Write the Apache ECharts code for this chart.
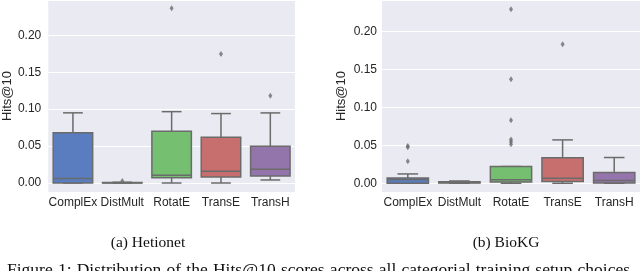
<!DOCTYPE html>
<html>
<head>
<meta charset="utf-8">
<script src="https://cdn.jsdelivr.net/npm/echarts@6/dist/echarts.min.js"></script>
<style>
html,body{margin:0;padding:0;background:#fff;}
#chart{width:640px;height:271px;}
</style>
</head>
<body>
<div id="chart"></div>
<script>
// ---- data ----
const categories = ['ComplEx', 'DistMult', 'RotatE', 'TransE', 'TransH'];
// box stats per category: [min, q1, median, q3, max]
const hetionetStats = [
  [0, 0, 0.006, 0.068, 0.095],
  [0, 0, 0.0003, 0.0008, 0.001],
  [0, 0.0072, 0.0104, 0.070, 0.0966],
  [0, 0.0081, 0.0158, 0.0619, 0.094],
  [0.0041, 0.0095, 0.0186, 0.0497, 0.0949]
];
// outliers: [categoryIndex, value]
const hetionetOutliers = [
  [1, 0.0027], [2, 0.2367], [3, 0.1748], [4, 0.1183]
];
const biokgStats = [
  [0, 0, 0.0048, 0.0070, 0.0123],
  [0, 0.0003, 0.001, 0.002, 0.003],
  [0, 0.0018, 0.0046, 0.022, 0.022],
  [0, 0.0022, 0.0066, 0.0337, 0.0571],
  [0, 0.0005, 0.0038, 0.0143, 0.0339]
];
const biokgOutliers = [
  [0, 0.0492], [0, 0.0475], [0, 0.029],
  [2, 0.229], [2, 0.1368], [2, 0.0831], [2, 0.0576], [2, 0.0545], [2, 0.0514],
  [3, 0.183]
];
const yAxisTitle = 'Hits@10';
const captions = ['(a) Hetionet', '(b) BioKG'];
const figureCaption = 'Figure 1: Distribution of the Hits@10 scores across all categorial training setup choices';

// ---- styles ----
const palette = ['#597dbf', '#d98b5f', '#75bf71', '#c76e6e', '#9475ab'];
const EDGE = '#6b6b6b';
const SANS = "'Liberation Sans', Arial, sans-serif";
const SERIF = "'Liberation Serif', 'Times New Roman', serif";
const TEXT = '#262626';

function renderBox(params, api) {
  const i = api.value(0);
  const cx = api.coord([i, 0])[0];
  const yMin = api.coord([i, api.value(1)])[1];
  const yQ1 = api.coord([i, api.value(2)])[1];
  const yMed = api.coord([i, api.value(3)])[1];
  const yQ3 = api.coord([i, api.value(4)])[1];
  const yMax = api.coord([i, api.value(5)])[1];
  const w = api.size([1, 0])[0] * 0.8;
  const cap = w / 2;
  const ls = { stroke: EDGE, lineWidth: 1.5, fill: null };
  return {
    type: 'group',
    children: [
      { type: 'line', shape: { x1: cx, y1: yQ3, x2: cx, y2: yMax }, style: ls },
      { type: 'line', shape: { x1: cx, y1: yQ1, x2: cx, y2: yMin }, style: ls },
      { type: 'line', shape: { x1: cx - cap / 2, y1: yMax, x2: cx + cap / 2, y2: yMax }, style: ls },
      { type: 'line', shape: { x1: cx - cap / 2, y1: yMin, x2: cx + cap / 2, y2: yMin }, style: ls },
      { type: 'rect', shape: { x: cx - w / 2, y: yQ3, width: w, height: Math.max(yQ1 - yQ3, 0.5) },
        style: { fill: palette[i], stroke: EDGE, lineWidth: 1.5 } },
      { type: 'line', shape: { x1: cx - w / 2, y1: yMed, x2: cx + w / 2, y2: yMed }, style: ls }
    ]
  };
}

function boxData(stats) {
  return stats.map((s, i) => [i].concat(s));
}

// justified caption line (like LaTeX), words spread between two edges
function justifiedLine(text, font, x0, x1, y) {
  const ctx = document.createElement('canvas').getContext('2d');
  ctx.font = font;
  const words = text.split(' ');
  const widths = words.map(w => ctx.measureText(w).width);
  const total = widths.reduce((a, b) => a + b, 0);
  const gap = (x1 - x0 - total) / (words.length - 1);
  let x = x0;
  return words.map((w, k) => {
    const el = { type: 'text', x: x, y: y,
      style: { text: w, fill: '#111', font: font, textAlign: 'left', textVerticalAlign: 'middle' } };
    x += widths[k] + gap;
    return el;
  });
}

const grids = [
  { left: 48, top: 0, width: 247, height: 192, min: -0.0122, max: 0.2478, labelMargin: 7 },
  { left: 382, top: 0, width: 258, height: 192, min: -0.0115, max: 0.2413, labelMargin: 5 }
];

const CAP_FONT = '15.5px ' + SERIF;
const FIG_FONT = '17.5px ' + SERIF;

const option = {
  backgroundColor: '#ffffff',
  animation: false,
  grid: grids.map(g => ({
    left: g.left, top: g.top, width: g.width, height: g.height,
    show: true, backgroundColor: '#eaeaf2', borderWidth: 0
  })),
  xAxis: grids.map((g, k) => ({
    type: 'category', gridIndex: k, data: categories,
    axisLine: { show: false }, axisTick: { show: false }, splitLine: { show: false },
    axisLabel: { color: TEXT, fontFamily: SANS, fontSize: 12, margin: 5, interval: 0 }
  })),
  yAxis: grids.map((g, k) => ({
    type: 'value', gridIndex: k, min: g.min, max: g.max,
    minInterval: 0.05, maxInterval: 0.05,
    name: yAxisTitle, nameLocation: 'middle', nameGap: 34,
    nameTextStyle: { color: TEXT, fontFamily: SANS, fontSize: 13 },
    axisLine: { show: false }, axisTick: { show: false },
    splitLine: { show: true, lineStyle: { color: '#ffffff', width: 1 } },
    axisLabel: {
      color: TEXT, fontFamily: SANS, fontSize: 12, margin: g.labelMargin,
      showMinLabel: false, showMaxLabel: false,
      formatter: v => (Math.abs(v / 0.05 - Math.round(v / 0.05)) < 1e-6 ? v.toFixed(2) : '')
    }
  })),
  series: [
    { type: 'custom', xAxisIndex: 0, yAxisIndex: 0, renderItem: renderBox,
      data: boxData(hetionetStats), encode: { x: 0, y: [1, 2, 3, 4, 5] }, z: 2 },
    { type: 'scatter', xAxisIndex: 0, yAxisIndex: 0, data: hetionetOutliers,
      symbol: 'diamond', symbolSize: [4, 6], itemStyle: { color: EDGE }, z: 3 },
    { type: 'custom', xAxisIndex: 1, yAxisIndex: 1, renderItem: renderBox,
      data: boxData(biokgStats), encode: { x: 0, y: [1, 2, 3, 4, 5] }, z: 2 },
    { type: 'scatter', xAxisIndex: 1, yAxisIndex: 1, data: biokgOutliers,
      symbol: 'diamond', symbolSize: [4, 6], itemStyle: { color: EDGE }, z: 3 }
  ],
  graphic: [
    { type: 'text', x: 148, y: 243,
      style: { text: captions[0], fill: '#111', font: CAP_FONT, textAlign: 'center', textVerticalAlign: 'middle' } },
    { type: 'text', x: 506, y: 243,
      style: { text: captions[1], fill: '#111', font: CAP_FONT, textAlign: 'center', textVerticalAlign: 'middle' } }
  ].concat(justifiedLine(figureCaption, FIG_FONT, 7, 630, 270.5))
};

const chart = echarts.init(document.getElementById('chart'), null, { renderer: 'canvas' });
chart.setOption(option);
</script>
</body>
</html>
